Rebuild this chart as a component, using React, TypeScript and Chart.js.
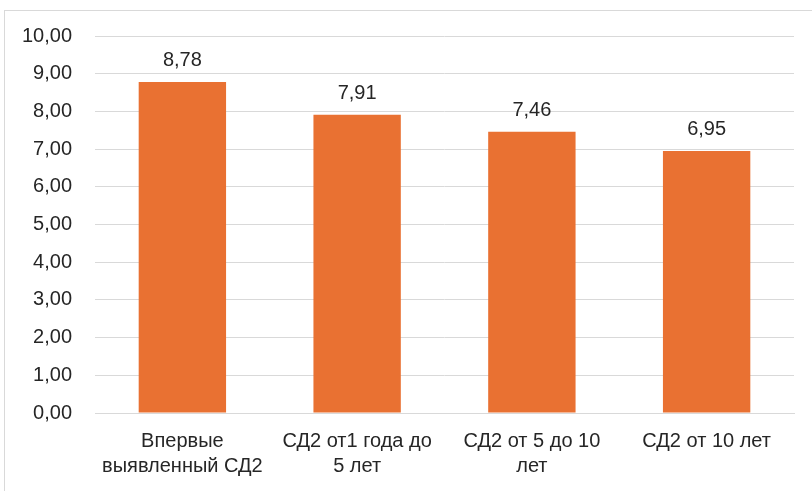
import React, { useEffect, useRef } from "react";
import { Chart, registerables } from "chart.js";

Chart.register(...registerables);

const categories: string[][] = [
  ["Впервые", "выявленный СД2"],
  ["СД2 от1 года до", "5 лет"],
  ["СД2 от 5 до 10", "лет"],
  ["СД2 от 10 лет"],
];
const values: number[] = [8.78, 7.91, 7.46, 6.95];
const yMin = 0;
const yMax = 10;
const yStep = 1;

const fmt = (v: number) => v.toFixed(2).replace(".", ",");
const FONT = "'Liberation Sans', Arial, sans-serif";

const dataLabels = {
  id: "dataLabels",
  afterDatasetsDraw(chart: any) {
    const ctx = chart.ctx;
    const meta = chart.getDatasetMeta(0);
    ctx.save();
    ctx.font = `20px ${FONT}`;
    ctx.fillStyle = "#262626";
    ctx.textAlign = "center";
    ctx.textBaseline = "alphabetic";
    meta.data.forEach((bar: any, i: number) => {
      ctx.fillText(fmt(values[i]), bar.x, bar.y - 16);
    });
    ctx.restore();
  },
};

export default function App() {
  const ref = useRef<HTMLCanvasElement>(null);
  useEffect(() => {
    if (!ref.current) return;
    const chart = new Chart(ref.current, {
      type: "bar",
      data: {
        labels: categories,
        datasets: [
          {
            data: values,
            backgroundColor: "#E97132",
            borderWidth: 0,
            categoryPercentage: 1,
            barPercentage: 0.5,
          },
        ],
      },
      options: {
        responsive: false,
        animation: false,
        devicePixelRatio: 1,
        layout: { padding: { top: 36, right: 18, left: 0, bottom: 0 } },
        plugins: { legend: { display: false }, tooltip: { enabled: false } },
        scales: {
          y: {
            min: yMin,
            max: yMax,
            ticks: {
              stepSize: yStep,
              callback: (v: any) => fmt(Number(v)),
              font: { family: FONT, size: 20 },
              color: "#262626",
              padding: 23,
            },
            grid: { color: "#d9d9d9", lineWidth: 1, drawTicks: false },
            border: { display: false },
            afterFit: (s: any) => {
              s.width = 95;
            },
          },
          x: {
            ticks: {
              font: { family: FONT, size: 20, lineHeight: 1.25 },
              color: "#262626",
              padding: 16,
              maxRotation: 0,
              autoSkip: false,
            },
            grid: { display: false, drawTicks: false },
            border: { display: true, color: "#d9d9d9", width: 1 },
            afterFit: (s: any) => {
              s.height = 78;
            },
          },
        },
      },
      plugins: [dataLabels],
    });
    return () => chart.destroy();
  }, []);

  return (
    <div
      style={{
        position: "fixed",
        left: 0,
        top: 0,
        width: 812,
        height: 491,
        background: "#fff",
        overflow: "hidden",
      }}
    >
      <div
        style={{
          position: "absolute",
          left: 4,
          top: 10,
          width: 900,
          height: 600,
          border: "1px solid #d9d9d9",
        }}
      />
      <canvas
        ref={ref}
        width={812}
        height={491}
        style={{ position: "absolute", left: 0, top: 0 }}
      />
    </div>
  );
}
